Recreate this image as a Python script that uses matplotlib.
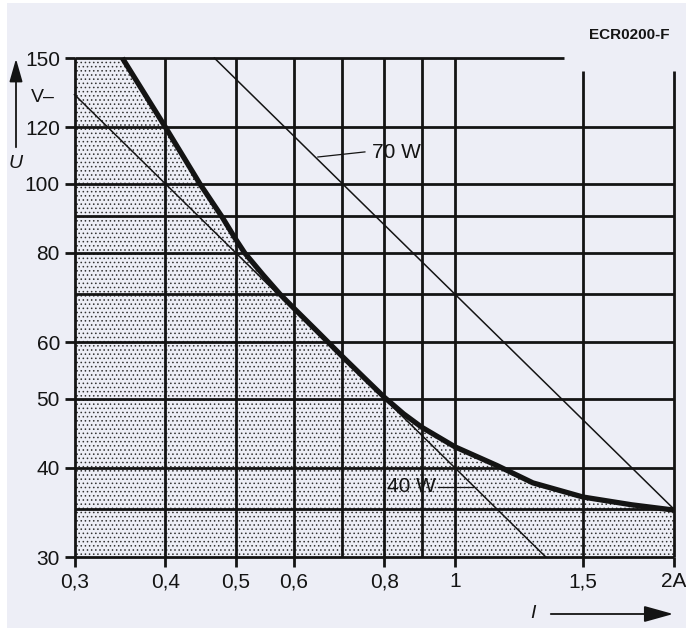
import matplotlib
matplotlib.use("Agg")
import matplotlib.pyplot as plt
from matplotlib.patches import Rectangle, Polygon

# ---------------- data ----------------
I_grid = [0.3, 0.4, 0.5, 0.6, 0.7, 0.8, 0.9, 1.0, 1.5, 2.0]
U_grid = [30, 35, 40, 50, 60, 70, 80, 90, 100, 120, 150]
x_ticks = [0.3, 0.4, 0.5, 0.6, 0.8, 1.0, 1.5, 2.0]
x_ticklabels = ["0,3", "0,4", "0,5", "0,6", "0,8", "1", "1,5", "2A"]
y_ticks = [30, 40, 50, 60, 80, 100, 120, 150]
y_ticklabels = ["30", "40", "50", "60", "80", "100", "120", "150"]

# thick limiting curve
curve_I = [0.349, 0.4, 0.446, 0.478, 0.5, 0.514, 0.545, 0.575, 0.6, 0.65,
           0.7, 0.75, 0.8, 0.85, 0.9, 1.0, 1.142, 1.28, 1.5, 1.75, 2.0]
curve_U = [150, 120, 100, 90, 83.5, 80, 74.5, 70, 67, 61.8,
           57.3, 53.5, 50.2, 47.6, 45.6, 42.8, 40.3, 38.1, 36.4, 35.5, 34.9]

# iso-power lines (end points)
line40_I = [0.3, 1.333]
line40_U = [133.3, 30]
line70_I = [0.467, 2.0]
line70_U = [150, 35]

# ---------------- figure ----------------
BG = "#EDEEF6"
INK = "#141414"
FONT = ["Liberation Sans Narrow", "Liberation Sans", "DejaVu Sans"]
plt.rcParams["font.family"] = FONT
plt.rcParams["hatch.linewidth"] = 0.6

fig = plt.figure(figsize=(6.86, 6.3), dpi=100, facecolor="white")
fig.add_artist(Rectangle((7 / 686, 2 / 630), 1 - 7 / 686, 1 - 5 / 630,
                         transform=fig.transFigure, facecolor=BG,
                         edgecolor="none", zorder=0))

ax = fig.add_axes([74.5 / 686, 1 - 557 / 630, 599.5 / 686, 499 / 630])
ax.set_facecolor("none")
ax.set_xscale("log")
ax.set_yscale("log")
ax.set_xlim(0.3, 2.0)
ax.set_ylim(30, 150)
for s in ax.spines.values():
    s.set_visible(False)
ax.minorticks_off()

# shaded (stippled) region under the limiting curve
poly = [(I_grid[0], U_grid[0]), (I_grid[0], U_grid[-1])]
poly += list(zip(curve_I, curve_U))
poly += [(I_grid[-1], U_grid[0])]
ax.add_patch(Polygon(poly, closed=True, facecolor="none", edgecolor="#333333",
                     hatch="....", linewidth=0, zorder=1))

# grid lines
glw = 2.0
for xv in I_grid:
    top = 143.8 if xv >= 1.5 else 150
    ax.plot([xv, xv], [30, top], color=INK, lw=glw, solid_capstyle="butt",
            zorder=2, clip_on=False)
for yv in U_grid:
    right = 1.41 if yv == 150 else 2.0
    ax.plot([0.3, right], [yv, yv], color=INK, lw=glw, solid_capstyle="butt",
            zorder=2, clip_on=False)

# iso-power lines
ax.plot(line40_I, line40_U, color=INK, lw=1.1, zorder=3, clip_on=False)
ax.plot(line70_I, line70_U, color=INK, lw=1.1, zorder=3, clip_on=False)

# limiting curve
ax.plot(curve_I, curve_U, color=INK, lw=3.8, zorder=4, clip_on=False,
        solid_capstyle="butt", solid_joinstyle="round")

# labels on lines
ax.plot([0.648, 0.752], [109, 110.8], color=INK, lw=0.9, zorder=3)
ax.text(0.769, 110.5, "70 W", fontsize=15, color=INK, ha="left",
        va="center", zorder=5)
ax.plot([0.949, 1.058], [37.6, 37.6], color=INK, lw=0.9, zorder=3)
ax.text(0.94, 37.6, "40 W", fontsize=15, color=INK, ha="right",
        va="center", zorder=5)

# ticks
ax.set_xticks(x_ticks)
ax.set_xticklabels(x_ticklabels)
ax.set_yticks(y_ticks)
ax.set_yticklabels(y_ticklabels)
ax.tick_params(axis="both", which="major", direction="out", length=7.5,
               width=2.0, color=INK, labelsize=15, labelcolor=INK)
ax.tick_params(axis="x", pad=3.5)
ax.tick_params(axis="y", pad=3.0)

# axis captions & arrows
fig.text(589 / 686, 1 - 35 / 630, "ECR0200-F", fontsize=11, fontweight="bold",
         color=INK, ha="left", va="center")
fig.text(43 / 686, 1 - 97 / 630, "V\u2013", fontsize=14, color=INK,
         ha="center", va="center")
fig.text(16 / 686, 1 - 163 / 630, "U", fontsize=14, color=INK, style="italic",
         ha="center", va="center")
fig.text(533 / 686, 1 - 614 / 630, "I", fontsize=14, color=INK, style="italic",
         ha="center", va="center")
fig.add_artist(matplotlib.patches.FancyArrowPatch(
    (16 / 686, 1 - 150 / 630), (16 / 686, 1 - 56 / 630),
    transform=fig.transFigure, arrowstyle="-|>,head_length=14,head_width=4",
    mutation_scale=1, color=INK, lw=1.3))
fig.add_artist(matplotlib.patches.FancyArrowPatch(
    (548 / 686, 1 - 614 / 630), (676 / 686, 1 - 614 / 630),
    transform=fig.transFigure, arrowstyle="-|>,head_length=18,head_width=5",
    mutation_scale=1, color=INK, lw=1.3))

fig.savefig("out.png", dpi=100, facecolor=fig.get_facecolor())
